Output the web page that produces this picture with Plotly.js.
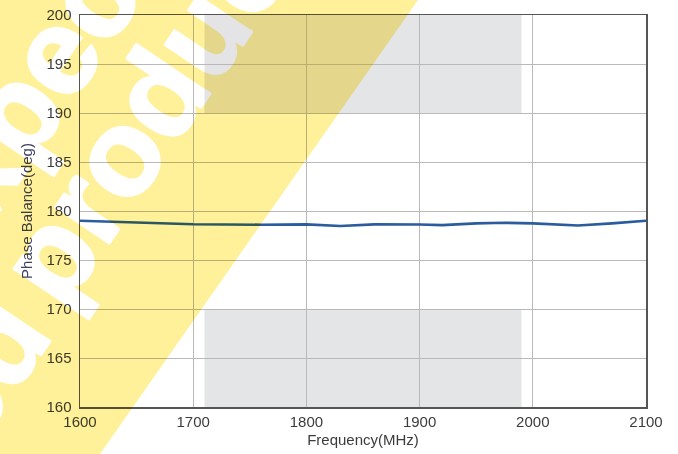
<!DOCTYPE html>
<html>
<head>
<meta charset="utf-8">
<script src="https://cdn.plot.ly/plotly-3.0.1.min.js"></script>
<style>
  html, body { margin: 0; padding: 0; background: #ffffff; }
  #chart { width: 678px; height: 454px; }
  /* the yellow ribbon tints everything under it (multiply) */
  .layer-above .shapelayer path { mix-blend-mode: multiply; }
  /* the watermark letters cancel the tint (divide by the yellow) so they read as white */
  .annotation-text { mix-blend-mode: color-dodge; stroke: #000f65; stroke-width: 3px; stroke-linejoin: round; }
</style>
</head>
<body>
<div id="chart"></div>
<script>
// ---- data ----
const frequencyMHz = [1600, 1640, 1680, 1700, 1760, 1800, 1830, 1860, 1900, 1920, 1950, 1975, 2000, 2040, 2070, 2100];
const phaseBalanceDeg = [179.0, 178.85, 178.72, 178.65, 178.6, 178.64, 178.47, 178.64, 178.62, 178.56, 178.74, 178.8, 178.74, 178.52, 178.74, 179.0];
const xTicks = [1600, 1700, 1800, 1900, 2000, 2100];
const yTicks = [160, 165, 170, 175, 180, 185, 190, 195, 200];
const bandFreq = [1710, 1990];      // grey spec band (frequency)
const bandUpper = [190, 200];       // grey upper region
const bandLower = [160, 170];       // grey lower region
const watermarkWords = ["Expected", "discontinued", "product"];

// ---- layout helpers (pixel -> paper) ----
const W = 678, H = 454;
const M = {l: 80, r: 32, t: 15, b: 47};
const PW = W - M.l - M.r, PH = H - M.t - M.b;
const px = x => (x - M.l) / PW;
const py = y => (H - M.b - y) / PH;

const font = 'Liberation Sans, Arial, Helvetica, sans-serif';

const trace = {
  x: frequencyMHz,
  y: phaseBalanceDeg,
  type: 'scatter',
  mode: 'lines',
  line: {color: '#2a5c9e', width: 2.6},
  hoverinfo: 'skip',
  showlegend: false
};

const bandShapes = [bandUpper, bandLower].map(b => ({
  type: 'rect', xref: 'x', yref: 'y', layer: 'below',
  x0: bandFreq[0], x1: bandFreq[1], y0: b[0], y1: b[1],
  fillcolor: '#e4e5e7', line: {width: 0}
}));

const poly = [[-20, -20], [432, -20], [86, 474], [-20, 474]];
const yellowShape = {
  type: 'path', xref: 'paper', yref: 'paper', layer: 'above',
  path: 'M ' + poly.map(p => px(p[0]).toFixed(4) + ' ' + py(p[1]).toFixed(4)).join(' L ') + ' Z',
  fillcolor: '#fff09a', line: {width: 0}
};

const wmCenters = [[61, 44], [-193, 626], [155, 100]];
const watermark = watermarkWords.map((t, i) => ({
  text: t, xref: 'paper', yref: 'paper',
  x: px(wmCenters[i][0]), y: py(wmCenters[i][1]),
  xanchor: 'center', yanchor: 'middle', showarrow: false,
  textangle: -56,
  font: {family: font, size: 122, color: '#000f65', weight: 'bold'}
}));

const layout = {
  width: W, height: H,
  margin: M,
  paper_bgcolor: '#ffffff',
  plot_bgcolor: '#ffffff',
  font: {family: font, size: 15, color: '#3c3c3c'},
  xaxis: {
    range: [1600, 2100], tickvals: xTicks, ticktext: xTicks.map(String),
    showgrid: true, gridcolor: '#b9b9b9', gridwidth: 1,
    zeroline: false, showline: true, linecolor: '#555555', linewidth: 1.5, mirror: true,
    ticks: '', ticklabelstandoff: 0,
    tickfont: {family: font, size: 15, color: '#3c3c3c'},
    title: {text: 'Frequency(MHz)', font: {family: font, size: 15, color: '#3c3c3c'}, standoff: 6}
  },
  yaxis: {
    range: [160, 200], tickvals: yTicks, ticktext: yTicks.map(String),
    showgrid: true, gridcolor: '#b9b9b9', gridwidth: 1,
    zeroline: false, showline: true, linecolor: '#555555', linewidth: 1.5, mirror: true,
    ticks: '', ticklabelstandoff: 4,
    tickfont: {family: font, size: 15, color: '#3c3c3c'},
    title: {text: 'Phase Balance(deg)', font: {family: font, size: 15, color: '#3c3c3c'}, standoff: 10}
  },
  shapes: bandShapes.concat([yellowShape]),
  annotations: watermark
};

Plotly.newPlot('chart', [trace], layout, {staticPlot: true, displayModeBar: false});
</script>
</body>
</html>
